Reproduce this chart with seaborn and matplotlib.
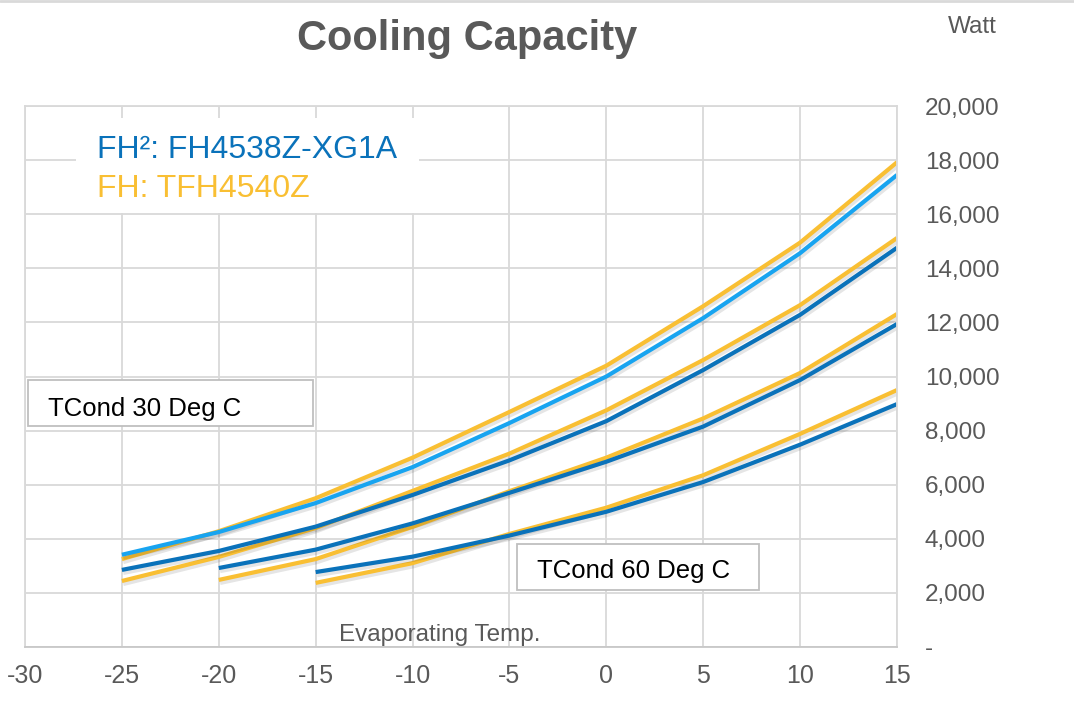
import numpy as np
import pandas as pd
import matplotlib.pyplot as plt
import matplotlib.patheffects as pe
from matplotlib.patches import Rectangle
from matplotlib.lines import Line2D
import seaborn as sns

# evaporating temperatures (deg C)
evap_temp = [-25, -20, -15, -10, -5, 0, 5, 10, 15]

# FH2: FH4538Z-XG1A (blue), one list per condensing temp
fh2_tc30 = [3410, 4250, 5320, 6650, 8280, 10000, 12160, 14560, 17450]
fh2_tc40 = [2850, 3550, 4450, 5620, 6900, 8350, 10240, 12280, 14760]
fh2_tc50 = [2920, 3600, 4570, 5700, 6850, 8150, 9870, 11940]      # starts at -20
fh2_tc60 = [2770, 3340, 4120, 5000, 6100, 7480, 8980]             # starts at -15

# FH: TFH4540Z (yellow)
fh_tc30 = [3250, 4280, 5500, 7000, 8690, 10400, 12600, 14950, 17920]
fh_tc40 = [2440, 3330, 4400, 5770, 7150, 8750, 10610, 12640, 15120]
fh_tc50 = [2480, 3250, 4440, 5760, 7000, 8450, 10130, 12310]
fh_tc60 = [2370, 3100, 4180, 5150, 6350, 7880, 9500]

x_ticks = list(range(-30, 16, 5))
y_ticks = list(range(0, 20001, 2000))

YELLOW = '#F9BF33'
BLUE = '#0A72BA'
LIGHT_BLUE = '#18A4F0'
GREY_TXT = '#595959'

sns.set_style('white')
plt.rcParams['font.family'] = ['Liberation Sans', 'DejaVu Sans']

fig = plt.figure(figsize=(10.74, 7.13), dpi=100)
ax = fig.add_axes([25 / 1074, 1 - 647 / 713, 872 / 1074, 541 / 713])

# soft drop shadow under each curve
shadow = [pe.SimpleLineShadow(offset=(1.0, -2.2), shadow_color='#000000', alpha=0.10),
          pe.Normal()]

# yellow first, blue on top
series = [
    (fh_tc30, YELLOW), (fh_tc40, YELLOW), (fh_tc50, YELLOW), (fh_tc60, YELLOW),
    (fh2_tc30, LIGHT_BLUE), (fh2_tc40, BLUE), (fh2_tc50, BLUE), (fh2_tc60, BLUE),
]
for vals, col in series:
    temps = evap_temp[-len(vals):]
    sns.lineplot(x=temps, y=vals, color=col, lw=3.0, ax=ax,
                 path_effects=shadow, solid_capstyle='butt', solid_joinstyle='round')

ax.set_xlim(-30, 15)
ax.set_ylim(0, 20000)
ax.set_xticks(x_ticks)
ax.set_yticks(y_ticks)
ax.set_xticklabels([str(t) for t in x_ticks])
ax.set_yticklabels(['-' if v == 0 else f'{v:,}' for v in y_ticks])
ax.yaxis.tick_right()
ax.tick_params(axis='x', length=0, pad=12, labelsize=18, labelcolor=GREY_TXT)
ax.tick_params(axis='y', length=0, pad=20, labelsize=17.5, labelcolor=GREY_TXT)
ax.grid(True, color='#D9D9D9', lw=1.3)
ax.set_axisbelow(True)
for s in ax.spines.values():
    s.set_color('#D9D9D9')
    s.set_linewidth(1.3)
ax.spines['bottom'].set_color('#C8C8C8')
ax.set_xlabel('')
ax.set_ylabel('')

# title and axis captions
fig.text(467 / 1074, 1 - 50 / 713, 'Cooling Capacity', ha='center', va='baseline',
         fontsize=30, fontweight='bold', color=GREY_TXT)
fig.text(948 / 1074, 1 - 33 / 713, 'Watt', ha='left', va='baseline',
         fontsize=17.5, color=GREY_TXT)
fig.text(440 / 1074, 1 - 641 / 713, 'Evaporating Temp.', ha='center', va='baseline',
         fontsize=17.5, color=GREY_TXT)

# legend block
fig.add_artist(Rectangle((76 / 1074, 1 - 213 / 713), 343 / 1074, 95 / 713,
                         transform=fig.transFigure, facecolor='white', edgecolor='none'))
fig.text(97 / 1074, 1 - 158 / 713, 'FH²: FH4538Z-XG1A', ha='left', va='baseline',
         fontsize=23, color=BLUE)
fig.text(97 / 1074, 1 - 197 / 713, 'FH: TFH4540Z', ha='left', va='baseline',
         fontsize=23, color=YELLOW)

# condensing temperature boxes
fig.add_artist(Rectangle((28 / 1074, 1 - 426 / 713), 285 / 1074, 46 / 713,
                         transform=fig.transFigure, facecolor='white',
                         edgecolor='#BFBFBF', lw=1.3))
fig.text(48 / 1074, 1 - 416 / 713, 'TCond 30 Deg C', ha='left', va='baseline',
         fontsize=18.5, color='black')
fig.add_artist(Rectangle((517 / 1074, 1 - 590 / 713), 242 / 1074, 46 / 713,
                         transform=fig.transFigure, facecolor='white',
                         edgecolor='#BFBFBF', lw=1.3))
fig.text(537 / 1074, 1 - 578 / 713, 'TCond 60 Deg C', ha='left', va='baseline',
         fontsize=18.5, color='black')

fig.add_artist(Line2D([0, 1], [0.998, 0.998], transform=fig.transFigure,
                      color='#D9D9D9', lw=2))

fig.savefig('out.png', dpi=100)
